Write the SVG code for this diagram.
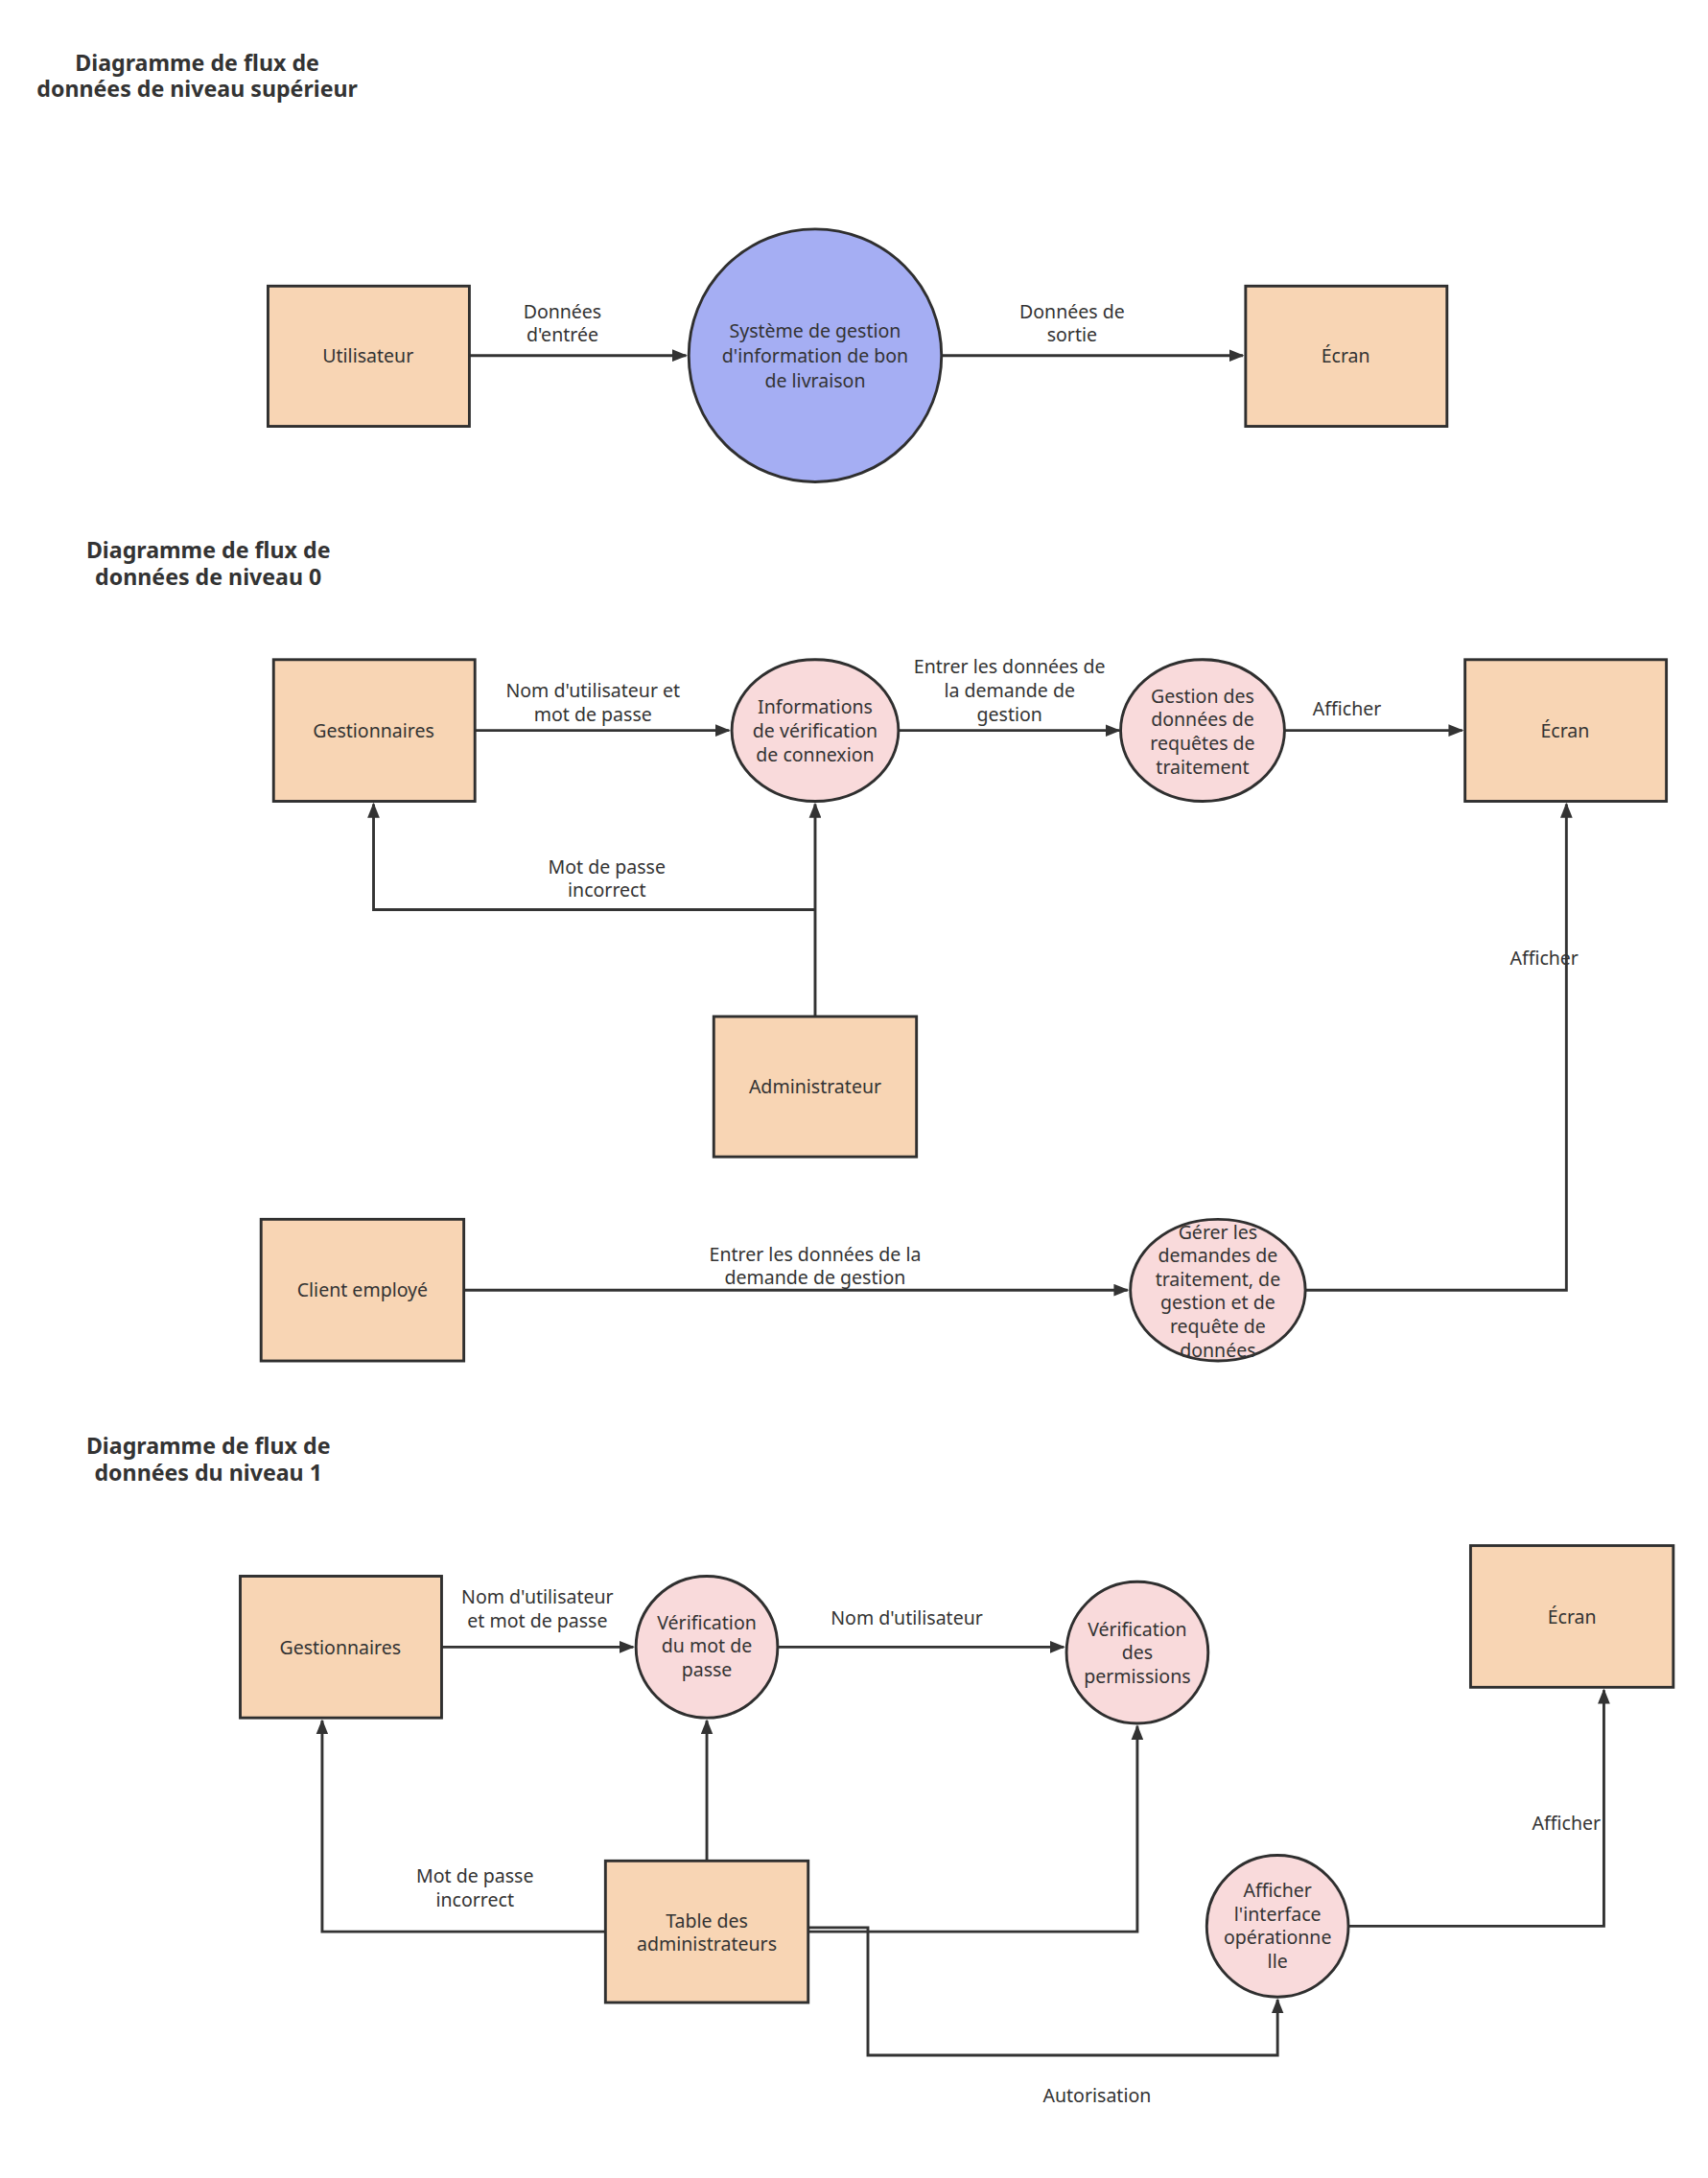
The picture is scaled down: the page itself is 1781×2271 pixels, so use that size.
<svg xmlns="http://www.w3.org/2000/svg" width="1781" height="2271" viewBox="0 0 1781 2271">
<style>
.b{fill:#f8d5b4;stroke:#2f2f2f;stroke-width:2}
.p{fill:#f9dadb;stroke:#2f2f2f;stroke-width:2}
.t{font-family:"Noto Sans","Liberation Sans",sans-serif;font-size:13.5px;fill:#333;text-anchor:middle}
.h{font-family:"Noto Sans","Liberation Sans",sans-serif;font-size:16px;font-weight:bold;fill:#333;text-anchor:middle}
.c{fill:none;stroke:#333;stroke-width:2;marker-end:url(#a)}
</style>
<defs><marker id="a" viewBox="0 0 10 8" refX="9" refY="4" markerWidth="11" markerHeight="9" orient="auto" markerUnits="userSpaceOnUse"><path d="M0,0L10,4L0,8z" fill="#333"/></marker></defs>
<rect width="1781" height="2271" fill="#fff"/>
<g transform="scale(1.448)">
<g id="titles">
<text class="h" x="142" y="51">Diagramme de flux de</text><text class="h" x="142" y="70">données de niveau supérieur</text>
<text class="h" x="150" y="402">Diagramme de flux de</text><text class="h" x="150" y="421">données de niveau 0</text>
<text class="h" x="150" y="1047">Diagramme de flux de</text><text class="h" x="150" y="1066">données du niveau 1</text>
</g>
<g id="connectors">
<path class="c" d="M338,256H494"/><path class="c" d="M678,256H895"/>
<path class="c" d="M342,526H525"/><path class="c" d="M647,526H806"/><path class="c" d="M925,526H1053"/>
<path class="c" d="M587,732V579"/><path class="c" d="M587,655H269V579"/>
<path class="c" d="M334,929H812"/><path class="c" d="M940,929H1128V579"/>
<path class="c" d="M318,1186H456"/><path class="c" d="M560,1186H766"/><path class="c" d="M509,1340V1239"/>
<path class="c" d="M436,1391H232V1239"/><path class="c" d="M582,1391H819V1243"/>
<path class="c" d="M582,1388H625V1480H920V1440"/><path class="c" d="M971,1387H1155V1217"/>
<g class="t">
<text x="405" y="229">Données</text><text x="405" y="246">d'entrée</text>
<text x="772" y="229">Données de</text><text x="772" y="246">sortie</text>
<text x="427" y="502">Nom d'utilisateur et</text><text x="427" y="519">mot de passe</text>
<text x="727" y="485">Entrer les données de</text><text x="727" y="502">la demande de</text><text x="727" y="519">gestion</text>
<text x="970" y="515">Afficher</text>
<text x="437" y="629">Mot de passe</text><text x="437" y="646">incorrect</text>
<text x="587" y="908">Entrer les données de la</text><text x="587" y="925">demande de gestion</text>
<text x="1112" y="695">Afficher</text>
<text x="387" y="1155">Nom d'utilisateur</text><text x="387" y="1172">et mot de passe</text>
<text x="653" y="1170">Nom d'utilisateur</text>
<text x="342" y="1356">Mot de passe</text><text x="342" y="1373">incorrect</text>
<text x="790" y="1514">Autorisation</text>
<text x="1128" y="1318">Afficher</text>
</g>
</g>
<g id="n1"><rect class="b" x="193" y="206" width="145" height="101"/><text class="t" x="265" y="261">Utilisateur</text></g>
<g id="n2"><circle cx="587" cy="256" r="91" fill="#a5aef3" stroke="#2f2f2f" stroke-width="2"/><text class="t" x="587" y="243">Système de gestion</text><text class="t" x="587" y="261">d'information de bon</text><text class="t" x="587" y="279">de livraison</text></g>
<g id="n3"><rect class="b" x="897" y="206" width="145" height="101"/><text class="t" x="969" y="261">Écran</text></g>
<g id="n4"><rect class="b" x="197" y="475" width="145" height="102"/><text class="t" x="269" y="531">Gestionnaires</text></g>
<g id="n5"><ellipse class="p" cx="587" cy="526" rx="60" ry="51"/><text class="t" x="587" y="514">Informations</text><text class="t" x="587" y="531">de vérification</text><text class="t" x="587" y="548">de connexion</text></g>
<g id="n6"><ellipse class="p" cx="866" cy="526" rx="59" ry="51"/><text class="t" x="866" y="506">Gestion des</text><text class="t" x="866" y="523">données de</text><text class="t" x="866" y="540">requêtes de</text><text class="t" x="866" y="557">traitement</text></g>
<g id="n7"><rect class="b" x="1055" y="475" width="145" height="102"/><text class="t" x="1127" y="531">Écran</text></g>
<g id="n8"><rect class="b" x="514" y="732" width="146" height="101"/><text class="t" x="587" y="787">Administrateur</text></g>
<g id="n9"><rect class="b" x="188" y="878" width="146" height="102"/><text class="t" x="261" y="934">Client employé</text></g>
<g id="n10"><ellipse class="p" cx="877" cy="929" rx="63" ry="51"/><text class="t" x="877" y="892">Gérer les</text><text class="t" x="877" y="909">demandes de</text><text class="t" x="877" y="926">traitement, de</text><text class="t" x="877" y="943">gestion et de</text><text class="t" x="877" y="960">requête de</text><text class="t" x="877" y="977">données</text></g>
<g id="n11"><rect class="b" x="173" y="1135" width="145" height="102"/><text class="t" x="245" y="1191">Gestionnaires</text></g>
<g id="n12"><circle class="p" cx="509" cy="1186" r="51"/><text class="t" x="509" y="1173">Vérification</text><text class="t" x="509" y="1190">du mot de</text><text class="t" x="509" y="1207">passe</text></g>
<g id="n13"><circle class="p" cx="819" cy="1190" r="51"/><text class="t" x="819" y="1178">Vérification</text><text class="t" x="819" y="1195">des</text><text class="t" x="819" y="1212">permissions</text></g>
<g id="n14"><rect class="b" x="1059" y="1113" width="146" height="102"/><text class="t" x="1132" y="1169">Écran</text></g>
<g id="n15"><rect class="b" x="436" y="1340" width="146" height="102"/><text class="t" x="509" y="1388">Table des</text><text class="t" x="509" y="1405">administrateurs</text></g>
<g id="n16"><circle class="p" cx="920" cy="1387" r="51"/><text class="t" x="920" y="1366">Afficher</text><text class="t" x="920" y="1383">l'interface</text><text class="t" x="920" y="1400">opérationne</text><text class="t" x="920" y="1417">lle</text></g>
</g>
</svg>
